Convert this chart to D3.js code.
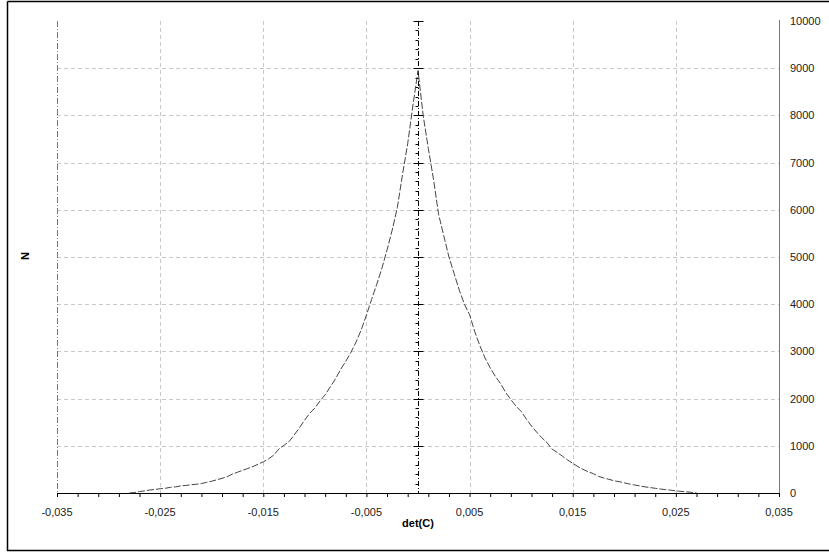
<!DOCTYPE html>
<html>
<head>
<meta charset="utf-8">
<script src="https://cdn.jsdelivr.net/npm/d3@7"></script>
<style>
  body { margin: 0; background: #fff; }
  text { font-family: "Liberation Sans", Arial, sans-serif; }
</style>
</head>
<body>
<script>
// histogram of det(C)
var detX = [-0.028,-0.0275,-0.027,-0.0265,-0.026,-0.0255,-0.025,-0.0245,-0.024,-0.0235,
  -0.023,-0.0225,-0.022,-0.0215,-0.021,-0.0205,-0.02,-0.0195,-0.019,-0.0185,
  -0.018,-0.0175,-0.017,-0.0165,-0.016,-0.0155,-0.015,-0.0145,-0.014,-0.0135,
  -0.013,-0.0125,-0.012,-0.0115,-0.011,-0.0105,-0.01,-0.0095,-0.009,-0.0085,
  -0.008,-0.0075,-0.007,-0.0065,-0.006,-0.0055,-0.005,-0.0045,-0.004,-0.0035,
  -0.003,-0.0025,-0.002,-0.0015,-0.001,-0.0005,0,0.0005,0.001,0.0015,
  0.002,0.0025,0.003,0.0035,0.004,0.0045,0.005,0.0055,0.006,0.0065,
  0.007,0.0075,0.008,0.0085,0.009,0.0095,0.01,0.0105,0.011,0.0115,
  0.012,0.0125,0.013,0.0135,0.014,0.0145,0.015,0.0155,0.016,0.0165,
  0.017,0.0175,0.018,0.0185,0.019,0.0195,0.02,0.0205,0.021,0.0215,
  0.022,0.0225,0.023,0.0235,0.024,0.0245,0.025,0.0255,0.026,0.0265,0.027];
var countN = [0,10,30,45,64,75,90,100,120,130,
  150,160,175,185,200,225,250,280,310,345,
  400,440,480,520,560,610,660,720,800,930,
  1010,1090,1230,1380,1540,1690,1800,1950,2080,2250,
  2420,2620,2790,2980,3200,3460,3770,4100,4420,4760,
  5150,5570,6050,6750,7400,8200,8950,8000,7300,6650,
  5900,5450,5000,4650,4300,4000,3780,3420,3120,2860,
  2650,2470,2320,2130,1980,1840,1730,1570,1420,1290,
  1170,1070,930,860,780,700,630,560,500,450,
  410,350,320,290,260,240,215,190,170,150,
  130,115,100,85,70,60,45,35,25,15,5];

var xTicks = [-0.035,-0.025,-0.015,-0.005,0.005,0.015,0.025,0.035];
var yTicks = [0,1000,2000,3000,4000,5000,6000,7000,8000,9000,10000];
var xLabel = "det(C)", yLabel = "N";

var W = 829, H = 554;
var svg = d3.select("body").append("svg").attr("width", W).attr("height", H);

// outer frame
svg.append("path").attr("d", "M7.5,1.5H830 M7.5,1.5V550.5H830")
  .attr("fill", "none").attr("stroke", "#000").attr("stroke-width", 1.5);

var x = d3.scaleLinear().domain([-0.035, 0.035]).range([57, 779]);
var y = d3.scaleLinear().domain([0, 10000]).range([493, 21]);

var fmt = function(d) { return d3.format(".3f")(d).replace(".", ",").replace("−", "-"); };

// grid
svg.append("g").selectAll("line").data(yTicks.filter(d => d > 0 && d < 10000))
  .enter().append("line")
  .attr("x1", x(-0.035)).attr("x2", x(0.035))
  .attr("y1", d => Math.round(y(d)) + 0.5).attr("y2", d => Math.round(y(d)) + 0.5)
  .attr("stroke", "#c8c8c8").attr("stroke-dasharray", "4,3");
svg.append("g").selectAll("line").data(xTicks.slice(1, -1))
  .enter().append("line")
  .attr("x1", d => Math.round(x(d)) + 0.5).attr("x2", d => Math.round(x(d)) + 0.5)
  .attr("y1", y(10000)).attr("y2", y(0))
  .attr("stroke", "#c8c8c8").attr("stroke-dasharray", "4,3");

// left edge (dashed) and right axis
svg.append("line").attr("x1", 57.5).attr("x2", 57.5).attr("y1", y(10000)).attr("y2", y(0))
  .attr("stroke", "#777").attr("stroke-dasharray", "6,2,1,2");
svg.append("line").attr("x1", 779.5).attr("x2", 779.5).attr("y1", y(10000) - 1).attr("y2", y(0))
  .attr("stroke", "#777");

// center axis at 0
var cx = Math.round(x(0)) + 0.5;
svg.append("line").attr("x1", cx).attr("x2", cx).attr("y1", y(10000)).attr("y2", y(0))
  .attr("stroke", "#000").attr("stroke-dasharray", "5,2,1,2");
var minorY = d3.range(0, 10001, 200);
svg.append("g").selectAll("line").data(minorY).enter().append("line")
  .attr("x1", d => d % 1000 === 0 ? cx - 5 : cx - 3)
  .attr("x2", d => d % 1000 === 0 ? cx + 5 : cx)
  .attr("y1", d => Math.round(y(d)) + 0.5).attr("y2", d => Math.round(y(d)) + 0.5)
  .attr("stroke", "#000");

// bottom axis
var xAxis = d3.axisBottom(x).tickValues(d3.range(-35, 36, 2).map(d => d / 1000))
  .tickSize(4).tickFormat("");
var gx = svg.append("g").attr("transform", "translate(0," + y(0) + ")").call(xAxis);
gx.select(".domain").attr("stroke", "#000").attr("d", "M" + x(-0.035) + ",0.5H" + x(0.035));
gx.selectAll(".tick line").attr("stroke", "#000");
svg.append("g").selectAll("text").data(xTicks).enter().append("text")
  .attr("x", d => x(d)).attr("y", 516).attr("text-anchor", "middle")
  .attr("font-size", 11).attr("fill", "#222").text(fmt);

// right tick labels
svg.append("g").selectAll("text").data(yTicks).enter().append("text")
  .attr("x", 790).attr("y", d => y(d) + 4).attr("font-size", 11).attr("fill", "#222")
  .text(d => d);

// titles
svg.append("text").attr("x", 418).attr("y", 527).attr("text-anchor", "middle")
  .attr("font-size", 11).attr("font-weight", "bold").text(xLabel);
svg.append("text").attr("transform", "translate(29,256) rotate(-90)")
  .attr("text-anchor", "middle").attr("font-size", 11).attr("font-weight", "bold").text(yLabel);

// curve
var pts = detX.map((d, i) => [d, countN[i]]);
svg.append("path").datum(pts)
  .attr("fill", "none").attr("stroke", "#444").attr("stroke-width", 1)
  .attr("stroke-dasharray", "7,2")
  .attr("d", d3.line().x(d => x(d[0])).y(d => y(d[1])));
</script>
</body>
</html>
